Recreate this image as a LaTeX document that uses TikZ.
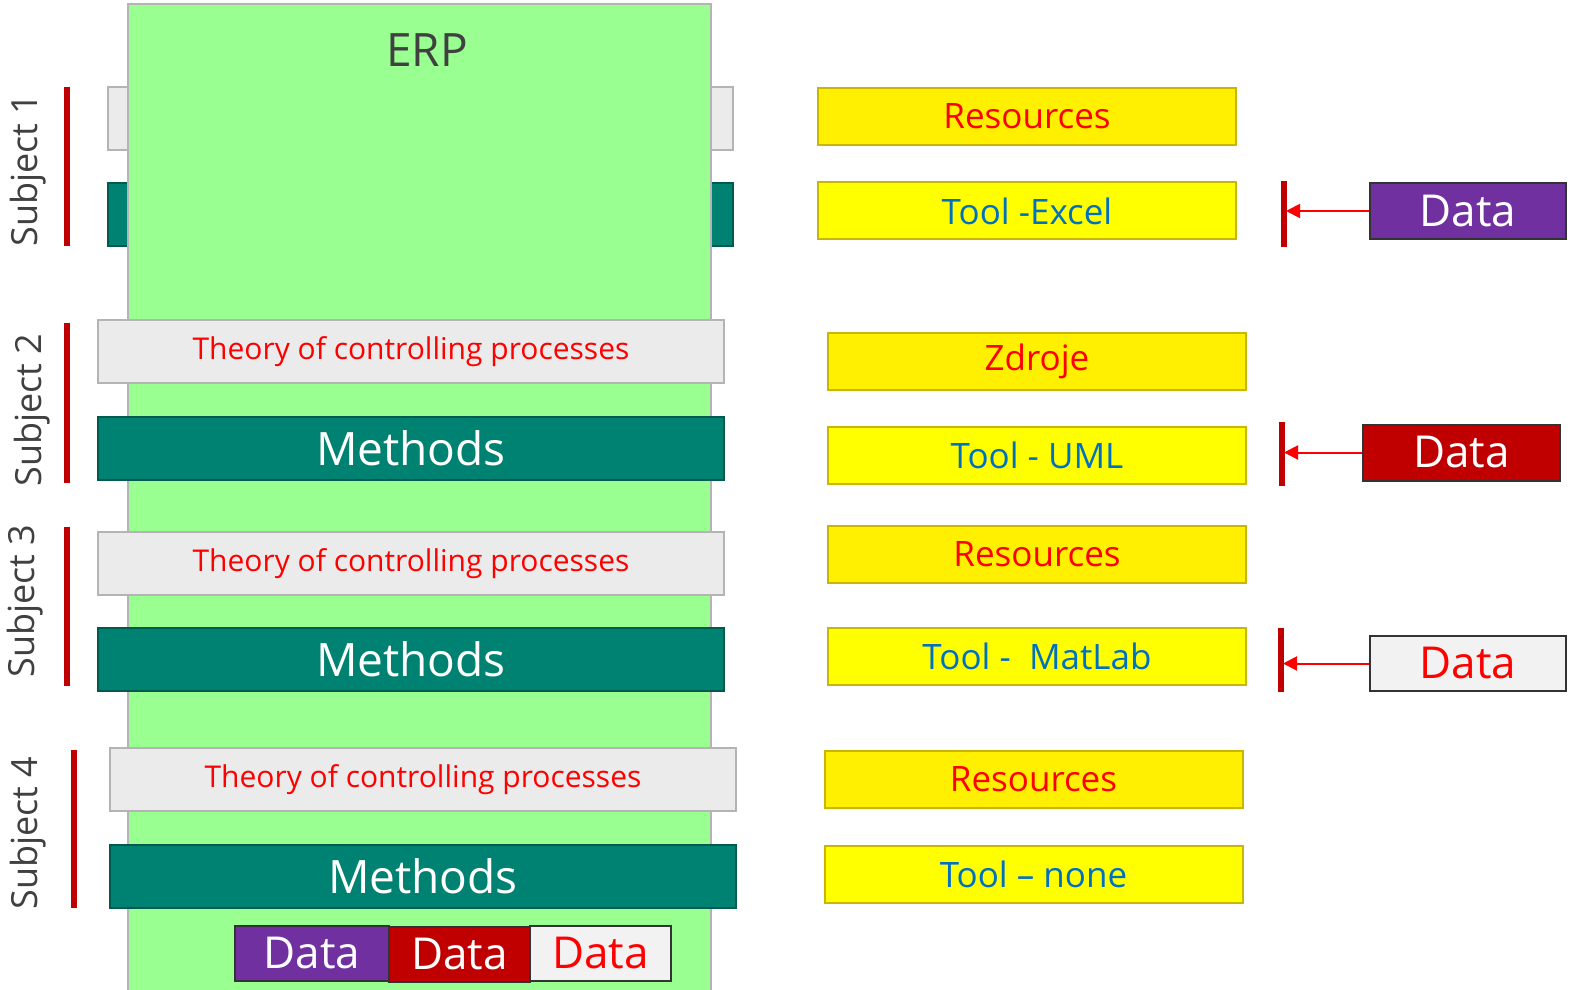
\documentclass[tikz,border=0pt]{standalone}
\usepackage{fontspec}
\setmainfont{Open Sans}
\usetikzlibrary{arrows.meta}
\definecolor{erpgreen}{RGB}{152,255,144}
\definecolor{erpline}{RGB}{180,180,180}
\definecolor{methteal}{RGB}{0,130,114}
\definecolor{methline}{RGB}{0,90,78}
\definecolor{theorygray}{RGB}{235,235,235}
\definecolor{barred}{RGB}{192,0,0}
\definecolor{resyellow}{RGB}{255,239,0}
\definecolor{toolyellow}{RGB}{255,255,0}
\definecolor{yline}{RGB}{200,182,0}
\definecolor{toolblue}{RGB}{0,112,192}
\definecolor{datapurple}{RGB}{112,48,160}
\definecolor{datawhite}{RGB}{242,242,242}
\definecolor{darktext}{RGB}{64,64,64}
\tikzset{
	box/.style={rectangle, inner sep=0pt, line width=1pt},
	theory/.style={box, draw=erpline, fill=theorygray, text=red, minimum width=313pt, minimum height=31.5pt, font=\fontsize{15}{15}\selectfont},
	methods/.style={box, draw=methline, fill=methteal, text=white, minimum width=313pt, minimum height=31.5pt, font=\fontsize{23}{23}\selectfont},
	resources/.style={box, draw=yline, fill=resyellow, text=red, minimum width=209pt, minimum height=28.5pt, font=\fontsize{17.5}{17.5}\selectfont},
	tool/.style={box, draw=yline, fill=toolyellow, text=toolblue, minimum width=209pt, minimum height=28.5pt, font=\fontsize{17.5}{17.5}\selectfont},
	data/.style={box, draw=black!80, minimum height=28pt, font=\fontsize{22}{22}\selectfont},
	subject/.style={rotate=90, text=darktext, font=\fontsize{18}{18}\selectfont},
	redbar/.style={barred, line width=3pt},
	feed/.style={red, line width=1pt, -{Triangle[length=7pt, width=7pt]}}
}
\begin{document}
\begin{tikzpicture}[x=0.5pt, y=-0.5pt]
	\useasboundingbox (0,0) rectangle (1576,990);
	% subject 1 boxes lie behind the ERP column
	\node[theory, minimum width=312.5pt] (t1) at (420.5,118.5) {};
	\node[methods, minimum width=312.5pt] (m1) at (420.5,214.5) {};
	\draw[erpline, fill=erpgreen, line width=1pt] (128,4) rectangle (711,1000);
	\node[text=darktext, font=\fontsize{23}{23}\selectfont] (erp) at (427,50) {ERP};

	% left column
	\node[theory] (t2) at (411,351.5) {Theory of controlling processes};
	\node[methods] (m2) at (411,448.5) {Methods};
	\node[theory] (t3) at (411,563.5) {Theory of controlling processes};
	\node[methods] (m3) at (411,659.5) {Methods};
	\node[theory] (t4) at (423,779.5) {Theory of controlling processes};
	\node[methods] (m4) at (423,876.5) {Methods};

	\node[data, fill=datapurple, text=white, minimum width=77pt, minimum height=27.5pt] (d4a) at (312,953.5) {Data};
	\node[data, fill=barred, text=white, minimum width=70.5pt, minimum height=27.5pt] (d4b) at (459.5,954.5) {Data};
	\node[data, fill=datawhite, text=red, minimum width=70.5pt, minimum height=27.5pt] (d4c) at (600.5,953.5) {Data};

	% subjects
	\draw[redbar] (67,87) -- (67,246);
	\node[subject] (s1) at (28,170) {Subject 1};
	\draw[redbar] (67,323) -- (67,483);
	\node[subject] (s2) at (32,410) {Subject 2};
	\draw[redbar] (67,527) -- (67,686);
	\node[subject] (s3) at (25,601) {Subject 3};
	\draw[redbar] (74,750) -- (74,908);
	\node[subject] (s4) at (28,833) {Subject 4};

	% right column
	\node[resources] (r1) at (1027,116.5) {Resources};
	\node[tool] (x1) at (1027,211) {Tool -Excel};
	\node[resources] (r2) at (1037,361) {Zdroje};
	\node[tool] (x2) at (1037,455.5) {Tool - UML};
	\node[resources] (r3) at (1037,554) {Resources};
	\node[tool] (x3) at (1037,656) {Tool -\ \ MatLab};
	\node[resources] (r4) at (1033.5,779) {Resources};
	\node[tool] (x4) at (1033.5,874) {Tool – none};

	\node[data, fill=datapurple, text=white, minimum width=98pt] (d1) at (1468,211) {Data};
	\node[data, fill=barred, text=white, minimum width=98.5pt] (d2) at (1461.5,452.5) {Data};
	\node[data, fill=datawhite, text=red, minimum width=98pt, minimum height=27.5pt] (d3) at (1468,663.5) {Data};

	\draw[redbar] (1284,181) -- (1284,247);
	\coordinate (b1) at (1286,211);
	\draw[redbar] (1282,422) -- (1282,486);
	\coordinate (b2) at (1284,452.5);
	\draw[redbar] (1281,628) -- (1281,692);
	\coordinate (b3) at (1283,663.5);
	\draw[feed] (d1.west) -- (b1);
	\draw[feed] (d2.west) -- (b2);
	\draw[feed] (d3.west) -- (b3);
\end{tikzpicture}
\end{document}
